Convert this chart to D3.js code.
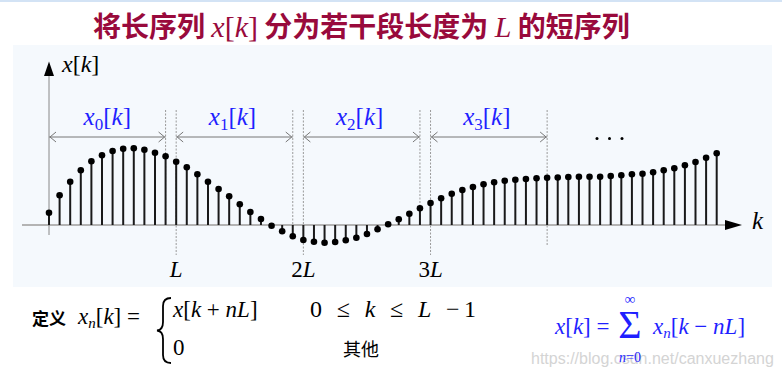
<!DOCTYPE html>
<html><head><meta charset="utf-8">
<script src="https://cdn.jsdelivr.net/npm/d3@7/dist/d3.min.js"></script>
<style>body{margin:0;background:#fff}svg{display:block}</style>
</head><body>
<svg id="c" width="782" height="379"></svg>
<script>
// ---- data ----
const values = [12.3, 29.7, 43.3, 54.7, 63.7, 69.7, 74, 76.3, 76.7, 75.3, 72.3, 68.7,
  63.3, 57.7, 50.7, 43.3, 36, 28.7, 20.7, 13, 6, -0.7, -6.3, -11.3,
  -15, -16.7, -17.7, -17, -15.3, -12.7, -9, -4.3, 0.7, 5.7, 11.3, 16.7,
  22, 26.7, 31.3, 35, 38, 40.7, 42.7, 44.3, 45.3, 46, 46.7, 47.3,
  47.5, 48, 48.3, 48.3, 48.3, 49, 49.7, 50.7, 51.3, 52.7, 54.7, 56.7, 59.7, 63, 67.3, 71.7];
const L = 12;
const tickMultiples = [1, 2, 3];
const tickLabels = ["L", "2L", "3L"];
const segmentLabels = ["0", "1", "2", "3"];
const segmentCount = 4;

const svg = d3.select("#c");
const serif = "'Liberation Serif','Times New Roman',serif";
const cjk = "'Noto Sans CJK SC',sans-serif";
const blue = "#1f1fff";

// backgrounds
svg.append("rect").attr("x",0).attr("y",0).attr("width",782).attr("height",2).attr("fill","#d3e3f5");
svg.append("rect").attr("x",13).attr("y",45).attr("width",759).attr("height",242).attr("fill","#f5f9fd");

// title
const title = svg.append("text").attr("x",93).attr("y",37).attr("fill","#990a3c")
  .style("font-family",cjk).style("font-size","28px").style("font-weight","700");
const tSerif = (txt, it) => title.append("tspan").style("font-family",serif)
  .style("font-style",it ? "italic" : "normal").style("font-weight","400").style("font-size","30px").text(txt);
title.append("tspan").text("将长序列 ");
tSerif("x",true); tSerif("[",false); tSerif("k",true); tSerif("]",false);
title.append("tspan").text(" 分为若干段长度为 ");
tSerif("L",true);
title.append("tspan").text(" 的短序列");

// scales
const x = d3.scaleLinear().domain([0, values.length - 1]).range([49, 716.7]);
const y = d3.scaleLinear().domain([0, 100]).range([225, 125]);
const y0 = y(0);

// x axis
svg.append("line").attr("x1",22).attr("x2",728).attr("y1",y0).attr("y2",y0)
  .attr("stroke","#b4b4b4").attr("stroke-width",2);
svg.append("path").attr("d",`M725,${y0-5}L742,${y0}L725,${y0+5}Z`).attr("fill","#000");
svg.append("text").attr("x",752).attr("y",y0+4).style("font-family",serif).style("font-style","italic")
  .style("font-size","25px").text("k");

// y axis
svg.append("line").attr("x1",x(0)).attr("x2",x(0)).attr("y1",74).attr("y2",235)
  .attr("stroke","#888").attr("stroke-width",1);
svg.append("path").attr("d",`M${x(0)},61.5L${x(0)+5},76L${x(0)-5},76Z`).attr("fill","#000");
const yl = svg.append("text").attr("x",62).attr("y",72).style("font-family",serif).style("font-size","24px");
yl.append("tspan").style("font-style","italic").text("x");
yl.append("tspan").text("[");
yl.append("tspan").style("font-style","italic").text("k");
yl.append("tspan").text("]");

// dashed guides
const guides = [];
for (let s = 0; s < segmentCount; s++) {
  const end = (s + 1) * L - 1;
  guides.push({i: end, bottom: s === segmentCount - 1 ? 245 : y0});
  if (s < segmentCount - 1) guides.push({i: (s + 1) * L, bottom: 255});
}
svg.selectAll("line.g").data(guides).join("line").attr("class","g")
  .attr("x1",d=>x(d.i)).attr("x2",d=>x(d.i)).attr("y1",110).attr("y2",d=>d.bottom)
  .attr("stroke","#9a9a9a").attr("stroke-width",1).attr("stroke-dasharray","2,1.5");

// stems
svg.selectAll("line.stem").data(values).join("line").attr("class","stem")
  .attr("x1",(d,i)=>x(i)).attr("x2",(d,i)=>x(i)).attr("y1",y0).attr("y2",d=>y(d))
  .attr("stroke","#1a1a1a").attr("stroke-width",2);
svg.selectAll("circle.dot").data(values).join("circle").attr("class","dot")
  .attr("cx",(d,i)=>x(i)).attr("cy",d=>y(d)).attr("r",3.3).attr("fill","#000");

// tick labels
tickMultiples.forEach((m,j)=>{
  const t = svg.append("text").attr("x",x(m*L)).attr("y",277).attr("text-anchor","middle")
    .style("font-family",serif).style("font-size","23px");
  const lab = tickLabels[j];
  if (lab.length > 1) t.append("tspan").text(lab[0]);
  t.append("tspan").style("font-style","italic").text("L");
});

// segment arrows
const ay = 137;
for (let s = 0; s < segmentCount; s++) {
  const xa = s === 0 ? x(0) : x(s * L);
  const xb = x((s + 1) * L - 1);
  svg.append("line").attr("x1",xa).attr("x2",xb).attr("y1",ay).attr("y2",ay)
    .attr("stroke","#777").attr("stroke-width",1);
  svg.append("path").attr("d",`M${xa+7},${ay-5}L${xa+1},${ay}L${xa+7},${ay+5}`)
    .attr("fill","none").attr("stroke","#777").attr("stroke-width",1);
  svg.append("path").attr("d",`M${xb-7},${ay-5}L${xb-1},${ay}L${xb-7},${ay+5}`)
    .attr("fill","none").attr("stroke","#777").attr("stroke-width",1);
  const t = svg.append("text").attr("x",(xa+xb)/2 - (s===0?0:2)).attr("y",125).attr("text-anchor","middle")
    .attr("fill",blue).style("font-family",serif).style("font-size","25px");
  t.append("tspan").style("font-style","italic").text("x");
  t.append("tspan").attr("dy",5).style("font-size","17px").text(segmentLabels[s]);
  t.append("tspan").attr("dy",-5).text("[");
  t.append("tspan").style("font-style","italic").text("k");
  t.append("tspan").text("]");
}
// ellipsis
svg.selectAll("circle.ell").data([0,1,2]).join("circle").attr("class","ell")
  .attr("cx",d=>597+d*12.5).attr("cy",138.5).attr("r",1.5).attr("fill","#000");

// definition
svg.append("text").attr("x",32).attr("y",325).style("font-family",cjk).style("font-size","17px")
  .style("font-weight","700").text("定义");
const def = svg.append("text").attr("x",78).attr("y",324).style("font-family",serif).style("font-size","23px");
def.append("tspan").style("font-style","italic").text("x");
def.append("tspan").attr("dy",4).style("font-size","15px").style("font-style","italic").text("n");
def.append("tspan").attr("dy",-4).text("[");
def.append("tspan").style("font-style","italic").text("k");
def.append("tspan").text("] =");
svg.append("path").attr("d","M171,298 Q163,298 163,306 L163,322 Q163,330 157,330.5 Q163,331 163,339 L163,355 Q163,363 171,363")
  .attr("fill","none").attr("stroke","#000").attr("stroke-width",1.8);
const r1 = svg.append("text").attr("x",173).attr("y",317).style("font-family",serif).style("font-size","23px");
r1.append("tspan").style("font-style","italic").text("x");
r1.append("tspan").text("[");
r1.append("tspan").style("font-style","italic").text("k");
r1.append("tspan").text(" + ");
r1.append("tspan").style("font-style","italic").text("nL");
r1.append("tspan").text("]");
const c1 = svg.append("text").attr("x",310).attr("y",317).style("font-family",serif).style("font-size","24px")
  .attr("textLength",166).attr("lengthAdjust","spacing");
c1.append("tspan").text("0 ≤ ");
c1.append("tspan").style("font-style","italic").text("k");
c1.append("tspan").text(" ≤ ");
c1.append("tspan").style("font-style","italic").text("L");
c1.append("tspan").text(" −1");
svg.append("text").attr("x",173).attr("y",355).style("font-family",serif).style("font-size","23px").text("0");
svg.append("text").attr("x",343).attr("y",356).style("font-family",cjk).style("font-size","18px").text("其他");

// watermark
svg.append("text").attr("x",531).attr("y",364).attr("fill","#d4d4d4")
  .style("font-family","'Liberation Sans',Arial,sans-serif").style("font-size","16px").text("https://blog.csdn.net/canxuezhang");

// sum formula
const sf = svg.append("text").attr("x",555).attr("y",334).attr("fill",blue).style("font-family",serif).style("font-size","23px");
sf.append("tspan").style("font-style","italic").text("x");
sf.append("tspan").text("[");
sf.append("tspan").style("font-style","italic").text("k");
sf.append("tspan").text("] =");
svg.append("text").attr("x",630).attr("y",338).attr("text-anchor","middle").attr("fill",blue)
  .style("font-family",serif).style("font-size","40px").text("Σ");
svg.append("text").attr("x",630).attr("y",304).attr("text-anchor","middle").attr("fill",blue)
  .style("font-family",serif).style("font-size","15px").text("∞");
const n0 = svg.append("text").attr("x",630).attr("y",362).attr("text-anchor","middle").attr("fill",blue)
  .style("font-family",serif).style("font-size","14px");
n0.append("tspan").style("font-style","italic").text("n");
n0.append("tspan").text("=0");
const sr = svg.append("text").attr("x",653).attr("y",334).attr("fill",blue).style("font-family",serif).style("font-size","23px");
sr.append("tspan").style("font-style","italic").text("x");
sr.append("tspan").attr("dy",4).style("font-size","15px").style("font-style","italic").text("n");
sr.append("tspan").attr("dy",-4).text("[");
sr.append("tspan").style("font-style","italic").text("k");
sr.append("tspan").text(" − ");
sr.append("tspan").style("font-style","italic").text("nL");
sr.append("tspan").text("]");
</script>
</body></html>
